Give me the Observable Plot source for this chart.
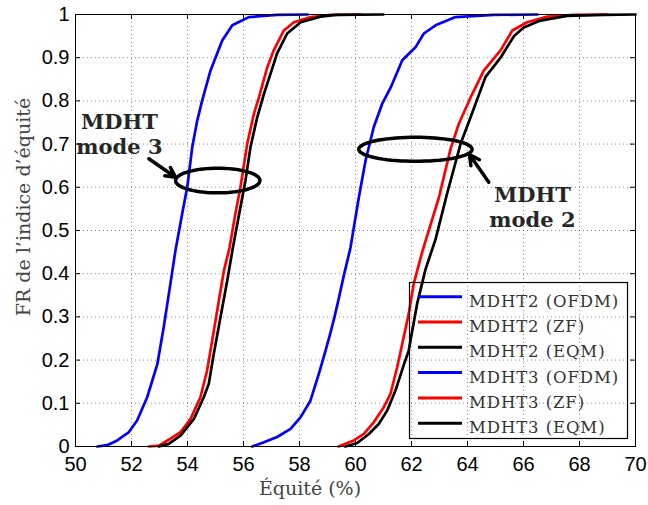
<!DOCTYPE html>
<html><head><meta charset="utf-8">
<script src="https://cdn.jsdelivr.net/npm/d3@7"></script>
<script src="https://cdn.jsdelivr.net/npm/@observablehq/plot@0.6"></script>
<style>body{margin:0;background:#fff}#chart{width:648px;height:505px}</style>
</head><body><div id="chart"></div>
<script>
const xTicks = [50, 52, 54, 56, 58, 60, 62, 64, 66, 68, 70];
const yTicks = [0, 0.1, 0.2, 0.3, 0.4, 0.5, 0.6, 0.7, 0.8, 0.9, 1];
const xLabel = "Équité (%)";
const yLabel = "FR de l’indice d’équité";
const seriesNames = ["MDHT2 (OFDM)", "MDHT2 (ZF)", "MDHT2 (EQM)", "MDHT3 (OFDM)", "MDHT3 (ZF)", "MDHT3 (EQM)"];
const seriesColors = ["#0000ff", "#ff0000", "#000000", "#0000ff", "#ff0000", "#000000"];

// [équité %, CDF]
const mdht2_ofdm = [[56.31,0],[56.73,0.01],[57.2,0.022],[57.68,0.041],[58.04,0.068],[58.39,0.106],[58.69,0.168],[58.9,0.215],[59.1,0.262],[59.25,0.30],[59.4,0.342],[59.58,0.395],[59.82,0.46],[60.12,0.577],[60.36,0.662],[60.65,0.739],[60.95,0.793],[61.25,0.83],[61.67,0.894],[62.14,0.924],[62.44,0.956],[62.86,0.975],[63.57,0.994],[64.94,0.999],[66.5,1]];
const mdht2_zf = [[59.4,0],[59.46,0.002],[59.94,0.014],[60.3,0.029],[60.65,0.056],[61.01,0.091],[61.25,0.122],[61.49,0.184],[61.67,0.238],[61.9,0.307],[62.08,0.377],[62.38,0.45],[62.98,0.577],[63.4,0.69],[63.69,0.747],[64.11,0.808],[64.58,0.87],[65.18,0.917],[65.6,0.963],[66.13,0.982],[66.85,0.995],[67.8,0.999],[69,1]];
const mdht2_eqm = [[59.64,0],[60.06,0.008],[60.48,0.029],[60.83,0.052],[61.13,0.083],[61.43,0.13],[61.73,0.19],[61.9,0.222],[62.2,0.33],[62.5,0.41],[62.86,0.48],[63.27,0.585],[63.75,0.70],[64.11,0.762],[64.64,0.855],[65.18,0.90],[65.66,0.95],[66.01,0.97],[66.6,0.986],[67.56,0.997],[68.87,0.999],[70,1]];
const mdht3_ofdm = [[50.78,0],[51.13,0.003],[51.49,0.014],[51.9,0.033],[52.2,0.06],[52.56,0.114],[52.92,0.19],[53.15,0.276],[53.39,0.377],[53.57,0.454],[53.81,0.539],[53.99,0.60],[54.17,0.693],[54.35,0.755],[54.52,0.80],[54.82,0.87],[55.0,0.90],[55.24,0.94],[55.6,0.975],[56.19,0.994],[57.2,0.999],[58.3,1]];
const mdht3_zf = [[52.62,0],[52.98,0.002],[53.39,0.018],[53.75,0.033],[54.11,0.064],[54.46,0.114],[54.7,0.176],[54.88,0.245],[55.12,0.338],[55.3,0.407],[55.5,0.46],[55.71,0.539],[55.89,0.60],[56.13,0.70],[56.37,0.77],[56.55,0.808],[56.85,0.878],[57.08,0.917],[57.44,0.963],[57.8,0.982],[58.4,0.994],[59.1,0.999],[60.2,1]];
const mdht3_eqm = [[52.98,0],[53.33,0.006],[53.75,0.025],[54.23,0.064],[54.58,0.114],[54.76,0.145],[54.94,0.215],[55.18,0.30],[55.42,0.384],[55.62,0.46],[55.89,0.554],[56.07,0.616],[56.25,0.693],[56.49,0.762],[56.73,0.816],[56.96,0.862],[57.2,0.91],[57.56,0.956],[58.04,0.982],[58.75,0.995],[59.3,0.999],[61,1]];
const seriesData = [mdht2_ofdm, mdht2_zf, mdht2_eqm, mdht3_ofdm, mdht3_zf, mdht3_eqm];

// annotations (data units)
const ellipses = [{cx: 55.08, cy: 0.6157, rx: 1.507, ry: 0.0285}, {cx: 62.14, cy: 0.688, rx: 2.024, ry: 0.0278}];
const arrows = [{x1: 52.62, y1: 0.666, x2: 53.57, y2: 0.6234}, {x1: 64.76, y1: 0.6118, x2: 64.07, y2: 0.676}];
const notes = [{x: 51.57, y: 0.6775, text: "MDHT\nmode 3"}, {x: 66.32, y: 0.5076, text: "MDHT\nmode 2"}];

const ellipsePts = ellipses.flatMap((e, k) => d3.range(0, 361, 5).map(a => ({k, x: e.cx + e.rx * Math.cos(a * Math.PI / 180), y: e.cy + e.ry * Math.sin(a * Math.PI / 180)})));

const W = 648, H = 505, mL = 75, mT = 14, mR = 13, mB = 59;
const fw = W - mL - mR, fh = H - mT - mB;

const marks = [
  Plot.ruleX(xTicks, {stroke: "#000", strokeOpacity: 0.55, strokeWidth: 0.8, strokeDasharray: "1,3"}),
  Plot.ruleY(yTicks, {stroke: "#000", strokeOpacity: 0.55, strokeWidth: 0.8, strokeDasharray: "1,3"}),
  Plot.tickX(xTicks, {x: d => d, insetTop: fh - 5, stroke: "#000"}),
  Plot.tickX(xTicks, {x: d => d, insetBottom: fh - 5, stroke: "#000"}),
  Plot.tickY(yTicks, {y: d => d, insetRight: fw - 5, stroke: "#000"}),
  Plot.tickY(yTicks, {y: d => d, insetLeft: fw - 5, stroke: "#000"}),
];
seriesData.forEach((s, i) => {
  marks.push(Plot.line(s, {x: d => d[0], y: d => d[1], stroke: seriesColors[i], strokeWidth: 2.7, strokeLinejoin: "round"}));
});
marks.push(
  Plot.line(ellipsePts, {x: "x", y: "y", z: "k", stroke: "#000", strokeWidth: 3.5, curve: "linear"}),
  Plot.arrow(arrows, {x1: "x1", y1: "y1", x2: "x2", y2: "y2", stroke: "#000", strokeWidth: 3.5, headLength: 14, headAngle: 55}),
  Plot.text(notes, {x: "x", y: "y", text: "text", lineAnchor: "bottom", lineHeight: 1.19, fontFamily: "DejaVu Serif", fontWeight: "bold", fontSize: 21, fill: "#262626"}),
  Plot.frame({stroke: "#000", strokeWidth: 1})
);

const svg = Plot.plot({
  width: W, height: H,
  marginLeft: mL, marginTop: mT, marginRight: mR, marginBottom: mB,
  style: {fontFamily: "'Liberation Sans', Arial, sans-serif", fontSize: "20px", color: "#000", background: "#fff"},
  x: {domain: [50, 70], ticks: xTicks, tickSize: 0, tickPadding: 10, tickFormat: d => String(d), label: null},
  y: {domain: [0, 1], ticks: yTicks, tickSize: 0, tickPadding: 6, tickFormat: d => String(d), label: null},
  marks
});
document.getElementById("chart").appendChild(svg);

const s = d3.select(svg);
s.append("text").attr("x", 310).attr("y", 495).attr("text-anchor", "middle")
  .attr("font-family", "DejaVu Serif").attr("font-size", 19).attr("fill", "#444").text(xLabel);
s.append("text").attr("transform", "translate(30,207) rotate(-90)").attr("text-anchor", "middle")
  .attr("font-family", "DejaVu Serif").attr("font-size", 19).attr("fill", "#444").text(yLabel);

const lg = s.append("g").attr("text-anchor", "start");
lg.append("rect").attr("x", 409.5).attr("y", 282.5).attr("width", 218).attr("height", 156)
  .attr("fill", "none").attr("stroke", "#000").attr("stroke-width", 1.2);
seriesNames.forEach((n, i) => {
  const yy = 296.7 + 25.3 * i;
  lg.append("line").attr("x1", 418).attr("x2", 462).attr("y1", yy).attr("y2", yy)
    .attr("stroke", seriesColors[i]).attr("stroke-width", 3);
  lg.append("text").attr("x", 469).attr("y", yy + 10).attr("text-anchor", "start").attr("font-family", "DejaVu Serif")
    .attr("font-size", 16.5).attr("letter-spacing", 0.9).attr("fill", "#333").text(n);
});
</script></body></html>
